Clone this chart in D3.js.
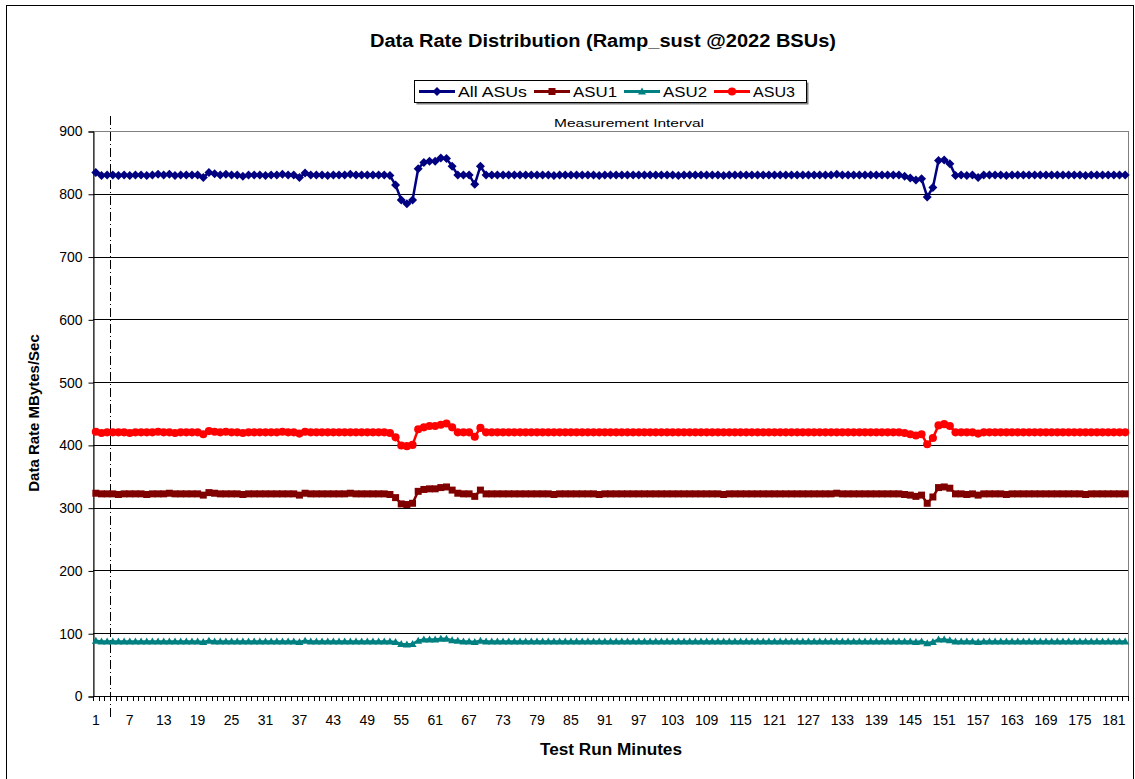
<!DOCTYPE html>
<html>
<head>
<meta charset="utf-8">
<script src="https://cdn.jsdelivr.net/npm/d3@7"></script>
<style>
  body { margin: 0; background: #fff; }
  svg { font-family: "Liberation Sans", Arial, sans-serif; }
</style>
</head>
<body>
<svg id="chart"></svg>
<script>
var width = 1135,
  height = 779;

// minutes 1..183
var minutes = d3.range(1, 184);
var xTickLabels = [1, 7, 13, 19, 25, 31, 37, 43, 49, 55, 61, 67, 73, 79, 85, 91, 97, 103, 109, 115,
  121, 127, 133, 139, 145, 151, 157, 163, 169, 175, 181];
var yTicks = [0, 100, 200, 300, 400, 500, 600, 700, 800, 900];

var allAsus = [
  834, 829, 830, 830, 829, 830, 829, 830, 830, 829,
  830, 831, 830, 831, 829, 830, 830, 830, 830, 826,
  834, 832, 830, 831, 830, 830, 828, 830, 830, 830,
  829, 830, 830, 831, 830, 830, 826, 833, 830, 830,
  830, 829, 830, 830, 830, 831, 830, 830, 830, 830,
  830, 830, 829, 814, 790, 784, 790, 840, 850, 852,
  852, 857, 856, 844, 830, 830, 830, 815, 844, 830,
  830, 830, 830, 830, 830, 830, 830, 830, 830, 830,
  830, 829, 830, 830, 830, 830, 830, 830, 830, 829,
  830, 830, 830, 830, 830, 830, 830, 830, 830, 830,
  830, 830, 830, 829, 830, 830, 830, 830, 830, 830,
  830, 829, 830, 830, 830, 830, 830, 830, 830, 830,
  830, 830, 830, 830, 830, 830, 830, 830, 830, 830,
  830, 831, 830, 830, 830, 830, 830, 830, 830, 830,
  830, 830, 830, 828, 825, 822, 824, 795, 810, 853,
  854, 848, 829, 830, 829, 830, 826, 830, 830, 830,
  830, 829, 830, 830, 830, 830, 830, 830, 830, 830,
  830, 830, 830, 830, 830, 829, 830, 830, 830, 830,
  830, 830, 830
];

var asu1 = [
  323, 322, 322, 322, 321, 322, 322, 322, 322, 321,
  322, 322, 322, 323, 322, 322, 322, 322, 322, 320,
  324, 323, 322, 322, 322, 322, 321, 322, 322, 322,
  322, 322, 322, 322, 322, 322, 320, 323, 322, 322,
  322, 322, 322, 322, 322, 323, 322, 322, 322, 322,
  322, 322, 321, 316, 306, 305, 307, 326, 329, 330,
  330, 332, 333, 328, 323, 322, 322, 318, 328, 322,
  322, 322, 322, 322, 322, 322, 322, 322, 322, 322,
  322, 321, 322, 322, 322, 322, 322, 322, 322, 321,
  322, 322, 322, 322, 322, 322, 322, 322, 322, 322,
  322, 322, 322, 322, 322, 322, 322, 322, 322, 322,
  322, 321, 322, 322, 322, 322, 322, 322, 322, 322,
  322, 322, 322, 322, 322, 322, 322, 322, 322, 322,
  322, 323, 322, 322, 322, 322, 322, 322, 322, 322,
  322, 322, 322, 321, 320, 318, 320, 307, 317, 332,
  333, 331, 322, 322, 321, 322, 320, 322, 322, 322,
  322, 321, 322, 322, 322, 322, 322, 322, 322, 322,
  322, 322, 322, 322, 322, 321, 322, 322, 322, 322,
  322, 322, 322
];

var asu2 = [
  88, 87, 87, 87, 87, 87, 87, 87, 87, 87,
  87, 87, 87, 87, 87, 87, 87, 87, 87, 86,
  88, 87, 87, 87, 87, 87, 87, 87, 87, 87,
  87, 87, 87, 87, 87, 87, 86, 88, 87, 87,
  87, 87, 87, 87, 87, 87, 87, 87, 87, 87,
  87, 87, 87, 86, 83, 82, 83, 88, 90, 90,
  90, 91, 91, 89, 88, 87, 87, 86, 88, 87,
  87, 87, 87, 87, 87, 87, 87, 87, 87, 87,
  87, 87, 87, 87, 87, 87, 87, 87, 87, 87,
  87, 87, 87, 87, 87, 87, 87, 87, 87, 87,
  87, 87, 87, 87, 87, 87, 87, 87, 87, 87,
  87, 87, 87, 87, 87, 87, 87, 87, 87, 87,
  87, 87, 87, 87, 87, 87, 87, 87, 87, 87,
  87, 87, 87, 87, 87, 87, 87, 87, 87, 87,
  87, 87, 87, 87, 87, 86, 87, 84, 86, 90,
  90, 89, 87, 87, 87, 87, 86, 87, 87, 87,
  87, 87, 87, 87, 87, 87, 87, 87, 87, 87,
  87, 87, 87, 87, 87, 87, 87, 87, 87, 87,
  87, 87, 87
];

var asu3 = [
  421, 419, 420, 420, 420, 420, 419, 420, 420, 420,
  420, 421, 420, 420, 419, 420, 420, 420, 420, 417,
  422, 421, 420, 421, 420, 420, 419, 420, 420, 420,
  420, 420, 420, 421, 420, 420, 418, 421, 420, 420,
  420, 420, 420, 420, 420, 420, 420, 420, 420, 420,
  420, 420, 419, 412, 399, 398, 400, 425, 428, 430,
  430, 432, 434, 428, 420, 420, 420, 413, 427, 420,
  420, 420, 420, 420, 420, 420, 420, 420, 420, 420,
  420, 420, 420, 420, 420, 420, 420, 420, 420, 420,
  420, 420, 420, 420, 420, 420, 420, 420, 420, 420,
  420, 420, 420, 420, 420, 420, 420, 420, 420, 420,
  420, 420, 420, 420, 420, 420, 420, 420, 420, 420,
  420, 420, 420, 420, 420, 420, 420, 420, 420, 420,
  420, 420, 420, 420, 420, 420, 420, 420, 420, 420,
  420, 420, 420, 419, 417, 415, 417, 401, 411, 431,
  433, 430, 420, 420, 420, 420, 418, 420, 420, 420,
  420, 420, 420, 420, 420, 420, 420, 420, 420, 420,
  420, 420, 420, 420, 420, 420, 420, 420, 420, 420,
  420, 420, 420
];

var seriesNames = ['All ASUs', 'ASU1', 'ASU2', 'ASU3'];
var seriesColors = ['#000080', '#800000', '#008080', '#ff0000'];
var measureStart = 3; // interval begins after minute 3

var series = [allAsus, asu1, asu2, asu3];

var margin = { left: 93, right: 1128, top: 131, bottom: 696 };

var x = d3.scaleBand()
  .domain(minutes)
  .range([margin.left, margin.right])
  .padding(0);

var y = d3.scaleLinear()
  .domain([0, 900])
  .range([margin.bottom, margin.top]);

var svg = d3.select('#chart')
  .attr('width', width)
  .attr('height', height);

// chart area border
svg.append('rect')
  .attr('x', 6.5)
  .attr('y', 5.5)
  .attr('width', 1127)
  .attr('height', 800)
  .attr('fill', '#fff')
  .attr('stroke', '#000')
  .attr('stroke-width', 1);

// plot area border
svg.append('rect')
  .attr('x', margin.left + 0.5)
  .attr('y', margin.top + 0.5)
  .attr('width', margin.right - margin.left)
  .attr('height', margin.bottom - margin.top)
  .attr('fill', '#fff')
  .attr('stroke', '#808080')
  .attr('stroke-width', 1);

// gridlines
svg.append('g')
  .selectAll('line')
  .data(yTicks.filter(function(d) { return d > 0 && d < 900; }))
  .enter().append('line')
  .attr('x1', margin.left)
  .attr('x2', margin.right)
  .attr('y1', function(d) { return Math.round(y(d)) + 0.5; })
  .attr('y2', function(d) { return Math.round(y(d)) + 0.5; })
  .attr('stroke', '#000')
  .attr('stroke-width', 1);

// y axis
var yAxis = svg.append('g')
  .attr('transform', 'translate(' + (margin.left + 0.5) + ',0.5)')
  .call(d3.axisLeft(y).tickValues(yTicks).tickSize(5).tickPadding(6));
yAxis.select('.domain').attr('stroke', '#000');
yAxis.selectAll('text')
  .attr('font-size', 14)
  .attr('font-family', '"Liberation Sans", Arial, sans-serif')
  .attr('fill', '#000');

// x axis
var xAxisG = svg.append('g');
xAxisG.append('line')
  .attr('x1', margin.left)
  .attr('x2', margin.right)
  .attr('y1', margin.bottom + 0.5)
  .attr('y2', margin.bottom + 0.5)
  .attr('stroke', '#000');
xAxisG.selectAll('.tick')
  .data(minutes.concat([minutes.length + 1]))
  .enter().append('line')
  .attr('x1', function(d) { return Math.round(margin.left + (d - 1) * x.bandwidth()) + 0.5; })
  .attr('x2', function(d) { return Math.round(margin.left + (d - 1) * x.bandwidth()) + 0.5; })
  .attr('y1', margin.bottom)
  .attr('y2', margin.bottom + 5)
  .attr('stroke', '#000');
xAxisG.selectAll('text')
  .data(xTickLabels)
  .enter().append('text')
  .attr('x', function(d) { return x(d) + x.bandwidth() / 2; })
  .attr('y', margin.bottom + 29)
  .attr('text-anchor', 'middle')
  .attr('font-size', 14)
  .text(function(d) { return d; });

// measurement interval marker
var mx = Math.round(margin.left + measureStart * x.bandwidth()) + 0.5;
svg.append('line')
  .attr('x1', mx)
  .attr('x2', mx)
  .attr('y1', 116)
  .attr('y2', 718)
  .attr('stroke', '#000')
  .attr('stroke-width', 1)
  .attr('stroke-dasharray', '9,3,1,3');

svg.append('text')
  .attr('x', 629)
  .attr('y', 127)
  .attr('text-anchor', 'middle')
  .attr('font-size', 11)
  .attr('textLength', 150)
  .attr('lengthAdjust', 'spacingAndGlyphs')
  .text('Measurement Interval');

// markers
var diamond = 'M0,-4.5L4.5,0L0,4.5L-4.5,0Z';
var square = 'M-3.5,-3.5H3.5V3.5H-3.5Z';
var triangle = 'M0,-4L4,3L-4,3Z';
var circle = d3.symbol().type(d3.symbolCircle).size(52)();
var markers = [diamond, square, triangle, circle];

var line = d3.line()
  .x(function(d, i) { return x(minutes[i]) + x.bandwidth() / 2; })
  .y(function(d) { return y(d); });

series.forEach(function(vals, k) {
  var g = svg.append('g');
  g.append('path')
    .datum(vals)
    .attr('d', line)
    .attr('fill', 'none')
    .attr('stroke', seriesColors[k])
    .attr('stroke-width', 2.5);
  g.selectAll('path.m')
    .data(vals)
    .enter().append('path')
    .attr('class', 'm')
    .attr('d', markers[k])
    .attr('transform', function(d, i) {
      return 'translate(' + (x(minutes[i]) + x.bandwidth() / 2) + ',' + y(d) + ')';
    })
    .attr('fill', seriesColors[k]);
});

// title
svg.append('text')
  .attr('x', 603)
  .attr('y', 47)
  .attr('text-anchor', 'middle')
  .attr('font-size', 18)
  .attr('font-weight', 'bold')
  .attr('textLength', 466)
  .attr('lengthAdjust', 'spacingAndGlyphs')
  .text('Data Rate Distribution (Ramp_sust @2022 BSUs)');

// axis titles
svg.append('text')
  .attr('transform', 'translate(39,413) rotate(-90)')
  .attr('text-anchor', 'middle')
  .attr('font-size', 15)
  .attr('font-weight', 'bold')
  .text('Data Rate MBytes/Sec');

svg.append('text')
  .attr('x', 611)
  .attr('y', 755)
  .attr('text-anchor', 'middle')
  .attr('font-size', 16)
  .attr('font-weight', 'bold')
  .attr('textLength', 142)
  .attr('lengthAdjust', 'spacingAndGlyphs')
  .text('Test Run Minutes');

// legend
var legendText = [69, 44, 44, 42]; // label widths in the picture
var legend = svg.append('g');
var lx = 414, ly = 80, lh = 22;
legend.append('rect')
  .attr('x', lx + 2.5).attr('y', ly + 2.5)
  .attr('width', 392).attr('height', lh)
  .attr('fill', '#808080');
legend.append('rect')
  .attr('x', lx + 0.5).attr('y', ly + 0.5)
  .attr('width', 392).attr('height', lh)
  .attr('fill', '#fff')
  .attr('stroke', '#000');
var cx = lx + 5;
seriesNames.forEach(function(name, k) {
  var cy = ly + lh / 2 + 0.5;
  legend.append('line')
    .attr('x1', cx).attr('x2', cx + 36)
    .attr('y1', cy).attr('y2', cy)
    .attr('stroke', seriesColors[k])
    .attr('stroke-width', 3);
  legend.append('path')
    .attr('d', markers[k])
    .attr('transform', 'translate(' + (cx + 18) + ',' + cy + ')')
    .attr('fill', seriesColors[k]);
  legend.append('text')
    .attr('x', cx + 39)
    .attr('y', cy + 5)
    .attr('font-size', 14)
    .attr('textLength', legendText[k])
    .attr('lengthAdjust', 'spacingAndGlyphs')
    .text(name);
  cx += 39 + legendText[k] + 7;
});
</script>
</body>
</html>
